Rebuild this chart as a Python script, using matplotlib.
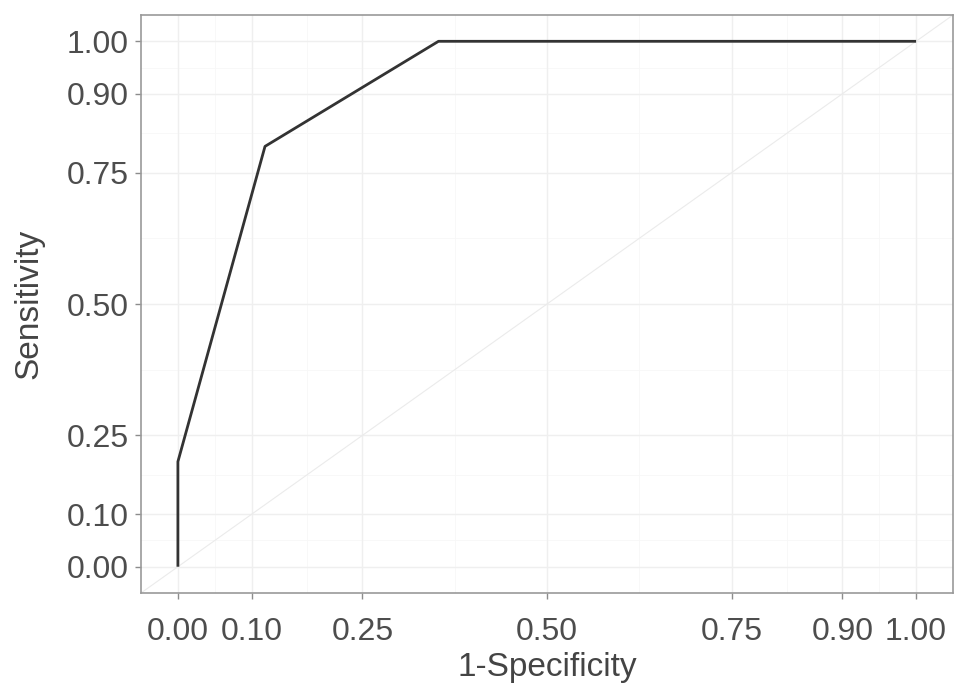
import numpy as np
import matplotlib.pyplot as plt

# ROC curve points (1-specificity, sensitivity)
fpr = [0.0, 0.0, 0.118, 0.353, 1.0]
tpr = [0.0, 0.2, 0.8, 1.0, 1.0]

breaks = [0.0, 0.10, 0.25, 0.50, 0.75, 0.90, 1.00]
labels = ["0.00", "0.10", "0.25", "0.50", "0.75", "0.90", "1.00"]

plt.rcParams['font.family'] = ['Liberation Sans', 'DejaVu Sans']

fig = plt.figure(figsize=(9.69, 6.96), dpi=100)
ax = fig.add_axes([0.1455, 0.148, 0.838, 0.8304])

lim = (-0.05, 1.05)
ax.set_xlim(lim)
ax.set_ylim(lim)

# ggplot-style minor breaks at midpoints between major breaks
minor = [(a + b) / 2 for a, b in zip(breaks[:-1], breaks[1:])]
for m in minor:
    ax.axvline(m, color='#f7f7f7', lw=0.6, zorder=0)
    ax.axhline(m, color='#f7f7f7', lw=0.6, zorder=0)
for b in breaks:
    ax.axvline(b, color='#efefef', lw=1.0, zorder=0)
    ax.axhline(b, color='#efefef', lw=1.0, zorder=0)

# reference diagonal
ax.plot(lim, lim, color='#ebebeb', lw=0.8, zorder=1)

ax.plot(fpr, tpr, color='#333333', lw=2.0, solid_capstyle='butt', zorder=2)

ax.set_xticks(breaks)
ax.set_xticklabels(labels)
ax.set_yticks(breaks)
ax.set_yticklabels(labels)
ax.tick_params(axis='both', colors='#8c8c8c', length=4, width=1.0,
               labelsize=23, labelcolor='#4d4d4d', pad=5)
ax.tick_params(axis='x', pad=13)

for s in ax.spines.values():
    s.set_color('#999999')
    s.set_linewidth(1.2)

ax.set_xlabel("1-Specificity", fontsize=24, color='#444444', labelpad=4)
ax.set_ylabel("Sensitivity", fontsize=24, color='#444444', labelpad=16)

fig.savefig("out.png", dpi=100)
